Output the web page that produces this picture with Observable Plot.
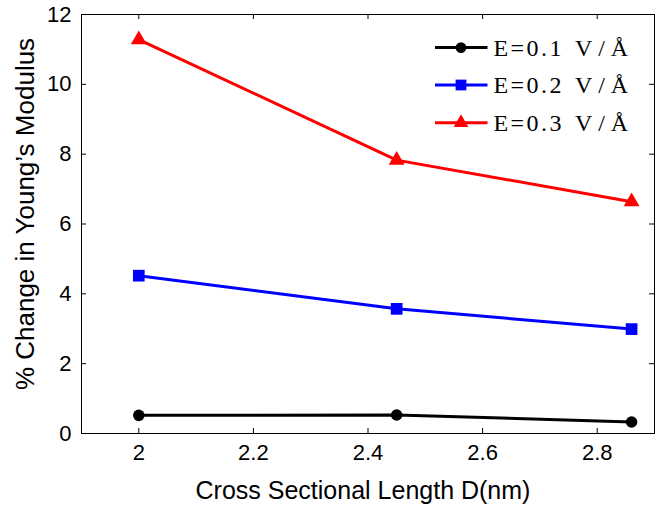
<!DOCTYPE html>
<html><head><meta charset="utf-8">
<script src="https://cdn.jsdelivr.net/npm/d3@7"></script>
<script src="https://cdn.jsdelivr.net/npm/@observablehq/plot@0.6"></script>
<style>
body{margin:0;background:#fff}
#wrap{position:relative;width:659px;height:506px}
#legend{position:absolute;left:0;top:0}
</style>
</head><body><div id="wrap"></div>
<script>
const lengths = [2, 2.45, 2.86];
const e01 = [0.52, 0.53, 0.33];
const e02 = [4.52, 3.57, 2.99];
const e03 = [11.28, 7.83, 6.64];
const seriesNames = ["E=0.1 V/Å", "E=0.2 V/Å", "E=0.3 V/Å"];
const seriesColors = ["#000000", "#0000ff", "#ff0000"];
const seriesSymbols = ["circle", "square", "triangle"];
const seriesR = [5.8, 6.6, 5.9];
const xTicks = [2, 2.2, 2.4, 2.6, 2.8];
const yTicks = [0, 2, 4, 6, 8, 10, 12];
const xLabel = "Cross Sectional Length D(nm)";
const yLabel = "% Change in Young\u2019s Modulus";

const values = [e01, e02, e03];
const data = [];
values.forEach((vals, s) => vals.forEach((v, i) => data.push({series: seriesNames[s], x: lengths[i], y: v})));

const W = 659, H = 506, mL = 81, mR = 5, mT = 14, mB = 73;
const fw = W - mL - mR, fh = H - mT - mB, tk = 5;

const marks = [
  Plot.ruleX(xTicks, {x: d => d, insetTop: fh - tk, stroke: "black"}),
  Plot.ruleX(xTicks, {x: d => d, insetBottom: fh - tk, stroke: "black"}),
  Plot.ruleY(yTicks, {y: d => d, insetRight: fw - tk, stroke: "black"}),
  Plot.ruleY(yTicks, {y: d => d, insetLeft: fw - tk, stroke: "black"}),
  Plot.axisX(xTicks, {tickSize: 0, tickPadding: 11, fontSize: 22, label: null, tickFormat: d => String(d)}),
  Plot.axisY(yTicks, {tickSize: 0, tickPadding: 10, fontSize: 22, label: null, tickFormat: d => String(d)}),
  Plot.line(data, {x: "x", y: "y", z: "series", stroke: "series", strokeWidth: 3})
];
seriesNames.forEach((name, s) => {
  marks.push(Plot.dot(data.filter(d => d.series === name), {x: "x", y: "y", fill: seriesColors[s], stroke: "none", symbol: seriesSymbols[s], r: seriesR[s]}));
});
marks.push(
  Plot.frame({stroke: "black", strokeWidth: 1}),
  Plot.text([xLabel], {text: d => d, frameAnchor: "bottom", dx: -5, dy: 57, fontSize: 25, lineAnchor: "middle"}),
  Plot.text([yLabel], {text: d => d, frameAnchor: "left", dx: -56, dy: -10, rotate: -90, textAnchor: "middle", lineAnchor: "middle", fontSize: 26})
);

const chart = Plot.plot({
  width: W, height: H,
  marginLeft: mL, marginRight: mR, marginTop: mT, marginBottom: mB,
  style: {fontFamily: "Liberation Sans, Arial, sans-serif", background: "white", color: "black", overflow: "visible"},
  x: {domain: [1.9, 2.9]},
  y: {domain: [0, 12]},
  color: {domain: seriesNames, range: seriesColors},
  marks
});
const wrap = document.getElementById("wrap");
wrap.appendChild(chart);

// legend overlay
const lg = d3.select(wrap).append("svg").attr("id", "legend").attr("width", W).attr("height", H);
const rowY = [47.6, 85, 122.7];
seriesNames.forEach((name, s) => {
  const g = lg.append("g").attr("transform", `translate(0,${rowY[s]})`);
  g.append("line").attr("x1", 435).attr("x2", 487.5).attr("y1", 0).attr("y2", 0)
    .attr("stroke", seriesColors[s]).attr("stroke-width", 3);
  const sym = {circle: d3.symbolCircle, square: d3.symbolSquare, triangle: d3.symbolTriangle}[seriesSymbols[s]];
  g.append("path").attr("transform", "translate(461,0)")
    .attr("d", d3.symbol(sym, Math.PI * seriesR[s] * seriesR[s] * 0.85)()).attr("fill", seriesColors[s]);
  const [left, right] = name.split(" ");
  const t = g.append("text").attr("y", 0).attr("dy", "0.34em")
    .attr("font-family", "Liberation Serif, DejaVu Serif, serif").attr("font-size", 24);
  t.append("tspan").attr("x", 493.5).attr("textLength", 68).attr("lengthAdjust", "spacing").text(left);
  t.append("tspan").attr("x", 575).attr("textLength", 53).attr("lengthAdjust", "spacing").text(right);
});
</script>
</body></html>
